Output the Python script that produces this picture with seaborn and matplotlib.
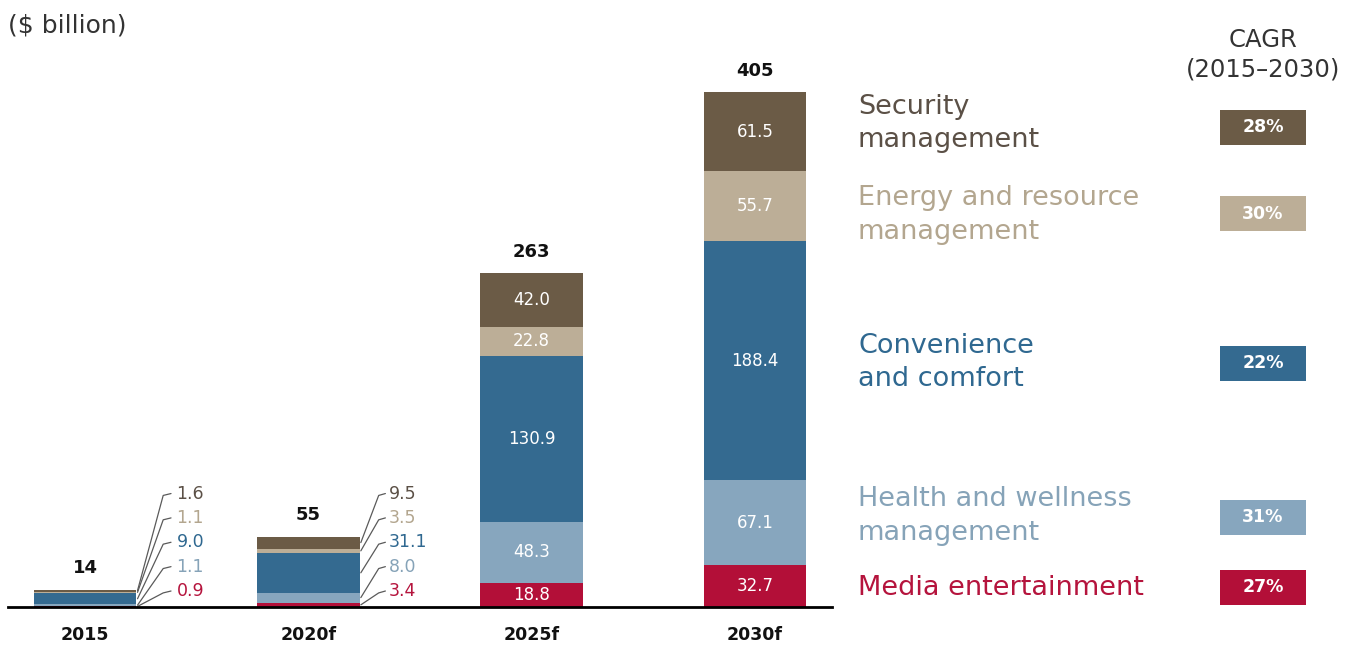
import numpy as np
import pandas as pd
import matplotlib
matplotlib.use("Agg")
import matplotlib.pyplot as plt
from matplotlib.patches import Rectangle
import seaborn as sns

# ---- data -------------------------------------------------------------
years = ["2015", "2020f", "2025f", "2030f"]
segments = [
    "Media entertainment",
    "Health and wellness management",
    "Convenience and comfort",
    "Energy and resource management",
    "Security management",
]
media = [0.9, 3.4, 18.8, 32.7]
health = [1.1, 8.0, 48.3, 67.1]
convenience = [9.0, 31.1, 130.9, 188.4]
energy = [1.1, 3.5, 22.8, 55.7]
security = [1.6, 9.5, 42.0, 61.5]
totals = [14, 55, 263, 405]
cagr = ["27%", "31%", "22%", "30%", "28%"]

bar_colors = ["#b30f38", "#87a6be", "#346a90", "#bcae97", "#6b5b46"]
text_colors = ["#b5143d", "#86a3b8", "#2f6890", "#b3a68f", "#5b5046"]

values = [media, health, convenience, energy, security]
df = pd.DataFrame({"year": np.repeat(years, len(segments)),
                   "segment": segments * len(years),
                   "value": np.array(values).T.ravel()})

# ---- figure -----------------------------------------------------------
sns.set_theme(style="white")
plt.rcParams["font.family"] = ["DejaVu Sans"]

W, H = 1349, 646
fig = plt.figure(figsize=(W / 100, H / 100), dpi=100)
ax_left, ax_right, ax_bottom, ax_top = 8, 832, 607, 60
ax = fig.add_axes([ax_left / W, 1 - ax_bottom / H,
                   (ax_right - ax_left) / W, (ax_bottom - ax_top) / H])

bar_w = 0.46
bottom = np.zeros(len(years))
for seg, col in zip(segments, bar_colors):
    sub = df[df["segment"] == seg]
    sns.barplot(data=sub, x="year", y="value", order=years, color=col,
                width=bar_w, bottom=bottom.copy(), linewidth=0,
                saturation=1, errorbar=None, ax=ax)
    bottom += sub.set_index("year").loc[years, "value"].to_numpy()

ymax = (ax_bottom - ax_top) / ((ax_bottom - 93) / 405)
ax.set_ylim(0, ymax)
ax.set_xlim(-0.345, 3.345)

# inner value labels for the two large bars
cum = np.cumsum(np.array(values), axis=0)
starts = cum - np.array(values)
for j in (2, 3):
    for i in range(len(segments)):
        v = values[i][j]
        ax.text(j, starts[i][j] + v / 2, f"{v:.1f}", color="white",
                ha="center", va="center", fontsize=12)

# leader-line labels for the two small bars
slot_y = [12.6 + 19.2 * k for k in range(len(segments))]
leader = {0: (0.35, 0.385, 0.41), 1: (1.315, 1.345, 1.36)}
for j, (xk, xt, xtxt) in leader.items():
    x0 = j + bar_w / 2 + 0.005
    for i in range(len(segments)):
        v = values[i][j]
        ymid = starts[i][j] + v / 2
        ly = slot_y[i]
        ax.plot([x0, xk, xt], [ymid, ly - 1.5, ly], color="#5a5a5a",
                lw=0.9, solid_capstyle="round", clip_on=False)
        ax.text(xtxt, ly, f"{v:.1f}", color=text_colors[i], ha="left",
                va="center", fontsize=12.5)

# totals
for j, t in enumerate(totals):
    ax.text(j, cum[-1][j] + 10, f"{t}", ha="center", va="bottom",
            fontsize=13, fontweight="bold", color="#111111")

# axes styling
sns.despine(ax=ax, left=True)
ax.spines["bottom"].set_color("black")
ax.spines["bottom"].set_linewidth(2)
ax.set_yticks([])
ax.set_xlabel("")
ax.set_ylabel("")
ax.tick_params(axis="x", length=0, pad=14)
for lab in ax.get_xticklabels():
    lab.set_fontweight("bold")
    lab.set_fontsize(12.5)
    lab.set_color("#111111")

# unit label
fig.text(8 / W, 1 - 25 / H, "($ billion)", fontsize=18, color="#333333",
         ha="left", va="center")

# CAGR header
fig.text(1263 / W, 1 - 40 / H, "CAGR", fontsize=17.5, color="#333333",
         ha="center", va="center")
fig.text(1263 / W, 1 - 70 / H, "(2015\u20132030)", fontsize=17.5,
         color="#333333", ha="center", va="center")

# legend on the right: segment names and CAGR badges
legend_lines = [
    (["Media entertainment"], [588]),
    (["Health and wellness", "management"], [499, 533]),
    (["Convenience", "and comfort"], [346, 379]),
    (["Energy and resource", "management"], [198, 232]),
    (["Security", "management"], [107, 140]),
]
badge_y = [587, 517, 363, 214, 127]
for i in range(len(segments)):
    lines, ys = legend_lines[i]
    for line, y in zip(lines, ys):
        fig.text(858 / W, 1 - y / H, line, fontsize=19.5,
                 color=text_colors[i], ha="left", va="center")
    bh = 35
    fig.patches.append(Rectangle((1220 / W, 1 - (badge_y[i] + bh / 2) / H),
                                 86 / W, bh / H, transform=fig.transFigure,
                                 facecolor=bar_colors[i], edgecolor="none"))
    fig.text(1263 / W, 1 - badge_y[i] / H, cagr[i], fontsize=12.5,
             fontweight="bold", color="white", ha="center", va="center")

fig.savefig("out.png", dpi=100)
